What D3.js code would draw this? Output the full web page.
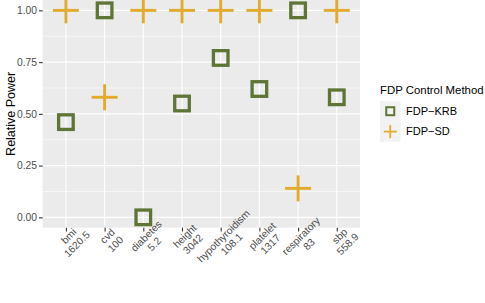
<!DOCTYPE html>
<html>
<head>
<meta charset="utf-8">
<script src="https://cdn.jsdelivr.net/npm/d3@7"></script>
<style>
  body { margin: 0; background: #fff; }
  text { font-family: "Liberation Sans", Arial, sans-serif; }
</style>
</head>
<body>
<div id="chart"></div>
<script>
// categories (two-line tick labels)
var categories = ["bmi", "cvd", "diabetes", "height", "hypothyroidism", "platelet", "respiratory", "sbp"];
var subLabels = ["1620.5", "100", "5.2", "3042", "108.1", "1317", "83", "558.9"];
// relative power per method
var krb = [0.46, 1.00, 0.00, 0.55, 0.77, 0.62, 1.00, 0.58];
var sd = [1.00, 0.58, 1.00, 1.00, 1.00, 1.00, 0.14, 1.00];
var yTicks = [0, 0.25, 0.5, 0.75, 1];
var yMinor = [0.125, 0.375, 0.625, 0.875];

var W = 485, H = 303;
var green = "#5E7536", gold = "#E2AB2C";

var svg = d3.select("#chart").append("svg")
  .attr("width", W).attr("height", H);

var panel = {left: 42.7, right: 360, top: 0, bottom: 227.7};

var x = d3.scalePoint().domain(categories)
  .range([panel.left, panel.right]).padding(0.6);
var y = d3.scaleLinear().domain([-0.05, 1.05])
  .range([panel.bottom, panel.top]);

// panel background
svg.append("rect")
  .attr("x", panel.left).attr("y", panel.top)
  .attr("width", panel.right - panel.left)
  .attr("height", panel.bottom - panel.top)
  .attr("fill", "#EBEBEB");

// minor grid
svg.selectAll("line.minor").data(yMinor).enter().append("line")
  .attr("x1", panel.left).attr("x2", panel.right)
  .attr("y1", d => y(d)).attr("y2", d => y(d))
  .attr("stroke", "#fff").attr("stroke-width", 0.55);

// major grid
svg.selectAll("line.majy").data(yTicks).enter().append("line")
  .attr("x1", panel.left).attr("x2", panel.right)
  .attr("y1", d => y(d)).attr("y2", d => y(d))
  .attr("stroke", "#fff").attr("stroke-width", 1.1);
svg.selectAll("line.majx").data(categories).enter().append("line")
  .attr("x1", d => x(d)).attr("x2", d => x(d))
  .attr("y1", panel.top).attr("y2", panel.bottom)
  .attr("stroke", "#fff").attr("stroke-width", 1.1);

// y axis
var yAxis = svg.append("g")
  .attr("transform", "translate(" + panel.left + ",0)")
  .call(d3.axisLeft(y).tickValues(yTicks).tickFormat(d3.format(".2f"))
    .tickSize(3.7).tickPadding(2));
yAxis.select(".domain").remove();
yAxis.selectAll(".tick line").attr("stroke", "#333333").attr("stroke-width", 1.1);
yAxis.selectAll(".tick text").attr("fill", "#4D4D4D")
  .style("font-size", "10.3px").style("font-family", "Liberation Sans, Arial, sans-serif");

// x axis ticks
var xAxis = svg.append("g")
  .attr("transform", "translate(0," + panel.bottom + ")")
  .call(d3.axisBottom(x).tickSize(3.7).tickFormat(""));
xAxis.select(".domain").remove();
xAxis.selectAll(".tick line").attr("stroke", "#333333").attr("stroke-width", 1.1);

// rotated two-line labels
var lab = svg.selectAll("g.xlab").data(categories).enter().append("g")
  .attr("transform", d => "translate(" + x(d) + "," + (panel.bottom + 5.5) + ") rotate(-45)");
var t = lab.append("text")
  .attr("text-anchor", "middle")
  .attr("fill", "#4D4D4D")
  .style("font-size", "10.3px");
t.append("tspan").attr("x", 0).attr("y", 7.6).text(d => d);
t.append("tspan").attr("x", 0).attr("y", 19).text((d, i) => subLabels[i]);

// y title
svg.append("text")
  .attr("transform", "translate(14.5," + y(0.5) + ") rotate(-90)")
  .attr("text-anchor", "middle")
  .style("font-size", "12.5px")
  .attr("fill", "#000")
  .text("Relative Power");

// points: FDP-KRB squares
var sq = 14.6;
svg.selectAll("rect.krb").data(krb).enter().append("rect")
  .attr("x", (d, i) => x(categories[i]) - sq / 2)
  .attr("y", d => y(d) - sq / 2)
  .attr("width", sq).attr("height", sq)
  .attr("fill", "none").attr("stroke", green).attr("stroke-width", 3.3);

// points: FDP-SD crosses
var arm = 13;
var plus = svg.selectAll("g.sd").data(sd).enter().append("g")
  .attr("transform", (d, i) => "translate(" + x(categories[i]) + "," + y(d) + ")");
plus.append("line").attr("x1", -arm).attr("x2", arm).attr("y1", 0).attr("y2", 0)
  .attr("stroke", gold).attr("stroke-width", 2.9);
plus.append("line").attr("y1", -arm).attr("y2", arm).attr("x1", 0).attr("x2", 0)
  .attr("stroke", gold).attr("stroke-width", 2.9);

// legend
var leg = svg.append("g").attr("transform", "translate(380,0)");
leg.append("text").attr("x", 0).attr("y", 94)
  .style("font-size", "11.4px").attr("fill", "#000")
  .text("FDP Control Method");
var keys = [{name: "FDP\u2212KRB"}, {name: "FDP\u2212SD"}];
keys.forEach(function (k, i) {
  var ky = 101 + i * 20.4;
  leg.append("rect").attr("x", 0).attr("y", ky)
    .attr("width", 20.5).attr("height", 20.4).attr("fill", "#F2F2F2");
  var cx = 10.25, cy = ky + 10.2;
  if (i === 0) {
    leg.append("rect").attr("x", cx - 4).attr("y", cy - 4)
      .attr("width", 8).attr("height", 8)
      .attr("fill", "none").attr("stroke", green).attr("stroke-width", 2);
  } else {
    leg.append("line").attr("x1", cx - 6.5).attr("x2", cx + 6.5).attr("y1", cy).attr("y2", cy)
      .attr("stroke", gold).attr("stroke-width", 1.8);
    leg.append("line").attr("x1", cx).attr("x2", cx).attr("y1", cy - 6.5).attr("y2", cy + 6.5)
      .attr("stroke", gold).attr("stroke-width", 1.8);
  }
  leg.append("text").attr("x", 26).attr("y", cy + 3.8)
    .style("font-size", "11px").attr("fill", "#000")
    .text(k.name);
});
</script>
</body>
</html>
